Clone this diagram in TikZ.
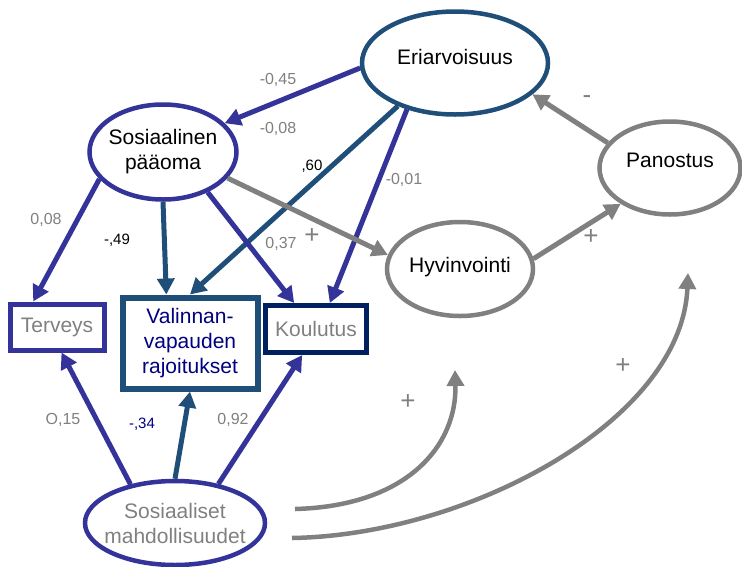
\documentclass[tikz,border=0pt]{standalone}
\usepackage{fontspec}
\setmainfont{Liberation Sans}
\usetikzlibrary{shapes, arrows.meta, positioning}
\definecolor{purp}{RGB}{51,51,153}
\definecolor{dblue}{RGB}{31,78,121}
\definecolor{navybox}{RGB}{0,32,96}
\definecolor{navytxt}{RGB}{0,0,128}
\definecolor{gry}{RGB}{128,128,128}

\begin{document}
\begin{tikzpicture}[x=1pt, y=-1pt]
      \tikzstyle{every node}=[font=\fontsize{21}{25}\selectfont]
      \tikzstyle{oval}=[ellipse, draw, line width=4.5pt, inner sep=0pt]
      \tikzstyle{txt}=[align=center]
      \tikzstyle{box}=[rectangle, draw, line width=5pt, inner sep=2pt, align=center]
      \tikzstyle{num}=[font=\fontsize{16}{18}\selectfont, text=gry]
      \tikzstyle{numb}=[font=\fontsize{15}{18}\selectfont]
      \tikzstyle{sign}=[font=\fontsize{26}{28}\selectfont, text=gry]
      \tikzstyle{arr}=[line width=5pt, -{Triangle[length=16pt,width=17pt]}]
      \useasboundingbox (0,0) rectangle (742,566);
      % latent variables
      \node [oval, draw=dblue, minimum width=186pt, minimum height=103pt,
        label={[txt, yshift=6pt]center:Eriarvoisuus}] (eri) at (455,63) {};
      \node [oval, draw=purp, minimum width=147pt, minimum height=95pt,
        label={[txt]center:Sosiaalinen\\pääoma}] (sos) at (163,152) {};
      \node [oval, draw=gry, minimum width=141pt, minimum height=93pt,
        label={[txt, yshift=8pt]center:Panostus}] (pan) at (670,168) {};
      \node [oval, draw=gry, minimum width=146pt, minimum height=94pt,
        label={[txt, yshift=2pt]center:Hyvinvointi}] (hyv) at (460,269) {};
      \node [oval, draw=purp, minimum width=180pt, minimum height=84pt,
        label={[txt, text=gry]center:Sosiaaliset\\mahdollisuudet}] (smahd) at (175,523) {};
      % outcomes
      \node [box, draw=purp, text=gry, minimum width=94pt, minimum height=46pt] (ter) at (57,327) {Terveys};
      \node [box, draw=dblue, line width=6pt, text=navytxt, minimum width=135pt, minimum height=91pt] (val) at (190,343) {Valinnan-\\vapauden\\rajoitukset};
      \node [box, draw=navybox, text=gry, minimum width=101pt, minimum height=47pt] (kou) at (316,329) {Koulutus};

      \draw [arr, purp] (eri.183) -- (sos.25);
      \draw [arr, dblue] (eri.217) -- (val.north);
      \draw [arr, purp] (eri.224) -- (kou.62);
      \draw [arr, purp] (sos.203) -- (ter.133);
      \draw [arr, dblue] (sos.south) -- (val.116);
      \draw [arr, purp] (sos.318) -- (kou.130);
      \draw [arr, gry] (sos.338) -- (hyv.169);
      \draw [arr, gry] (hyv.8) -- (pan.216);
      \draw [arr, gry] (pan.158) -- (eri.338);
      \draw [arr, purp] (smahd.139) -- (ter.280);
      \draw [arr, dblue] (smahd.north) -- (val.south);
      \draw [arr, purp] (smahd.42) -- (kou.242);

      \coordinate (c1s) at (295,509);
      \coordinate (c1e) at (455,370);
      \coordinate (c2s) at (292,538);
      \coordinate (c2e) at (688,273);
      \draw [arr, gry, line width=4.5pt] (c1s) .. controls (408,506) and (457,445) .. (c1e);
      \draw [arr, gry, line width=4.5pt] (c2s) .. controls (470,535) and (682,420) .. (c2e);

      % coefficients
      \node [num] (n1) at (278,80) {-0,45};
      \node [num] (n2) at (278,129) {-0,08};
      \node [numb] (n3) at (312,166) {,60};
      \node [num] (n4) at (404,180) {-0,01};
      \node [num] (n5) at (46,220) {0,08};
      \node [numb] (n6) at (117,240) {-,49};
      \node [num] (n7) at (281,244) {0,37};
      \node [num] (n8) at (63,420) {O,15};
      \node [numb, text=navytxt] (n9) at (142,424) {-,34};
      \node [num] (n10) at (233,420) {0,92};
      \node [sign] (s1) at (312,236) {+};
      \node [sign] (s2) at (591,237) {+};
      \node [sign] (s3) at (587,100) {-};
      \node [sign] (s4) at (408,402) {+};
      \node [sign] (s5) at (623,366) {+};
\end{tikzpicture}
\end{document}
